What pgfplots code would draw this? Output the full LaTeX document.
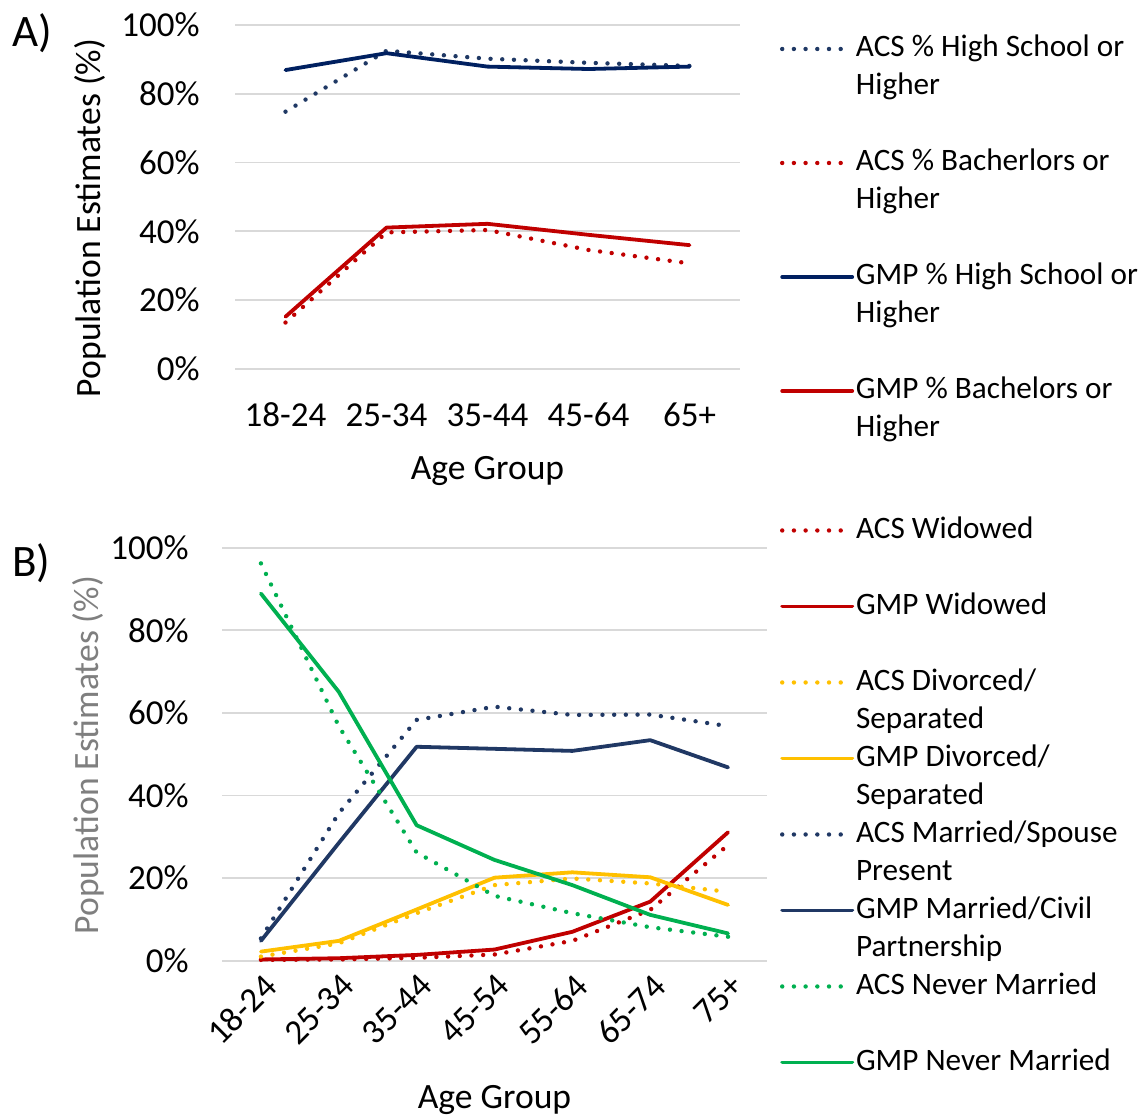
\documentclass[border=0pt]{standalone}
\usepackage{fontspec}
\setmainfont{Carlito}
\usepackage{pgfplots}
\pgfplotsset{compat=1.18}
\definecolor{navyA}{HTML}{002060}
\definecolor{navyA2}{HTML}{1F3864}
\definecolor{navyB}{HTML}{203864}
\definecolor{redC}{HTML}{C00000}
\definecolor{goldC}{HTML}{FFC000}
\definecolor{greenC}{HTML}{00B050}
\definecolor{gridc}{HTML}{D9D9D9}
\definecolor{labgray}{HTML}{7F7F7F}
\tikzset{
 acs/.style={line width=2.2pt, dash pattern=on 0pt off 5.85pt, line cap=round},
 gmp/.style={line width=1.9pt, line cap=round, line join=round},
}
\pgfplotsset{
 excel/.style={
  scale only axis,
  clip=false,
  ymin=0, ymax=100, ytick={0,20,40,60,80,100},
  yticklabel={\pgfmathprintnumber{\tick}\%},
  /pgf/number format/assume math mode=true,
  axis line style={draw=none},
  major tick length=0pt,
  ymajorgrids, grid style={gridc, line width=0.9pt},
  tick label style={font=\fontsize{17.5}{21}\selectfont, text=black},
  label style={font=\fontsize{17.8}{21}\selectfont},
  legend style={draw=none, fill=none, inner sep=0pt, outer sep=0pt, anchor=north west,
     font=\fontsize{15.6}{19}\selectfont,
     nodes={inner sep=0pt, text height=13.3pt, text depth=5.7pt},
     column sep=0.8pt, row sep=0pt},
  legend cell align=left,
  legend image code/.code={\draw[##1] (0pt,0pt) -- (35pt,0pt);},
 },
}
\begin{document}
\begin{tikzpicture}
\path[use as bounding box] (0,0) rectangle (571.5pt,558.5pt);
% ---------------- Panel A ----------------
\begin{axis}[excel,
  at={(117.5pt,374pt)}, anchor=south west,
  width=252.5pt, height=172pt,
  xmin=-0.5, xmax=4.5, xtick={0,1,2,3,4},
  xticklabels={18-24,25-34,35-44,45-64,65+},
  xticklabel style={anchor=center, yshift=-23pt},
  yticklabel style={inner sep=0pt, anchor=east, xshift=-17.5pt},
  xlabel={Age Group},
  xlabel style={at={(axis description cs:0.5,0)}, anchor=base, yshift=-55.5pt},
  ylabel={Population Estimates (\%)},
  ylabel style={at={(axis description cs:-0.287,0.439)}, anchor=center},
  legend style={at={(1.0792,0.9855)}},
]
\addplot[acs, navyA2, forget plot] coordinates {(0,74.8) (1,92.5) (2,90.2) (3,89.0) (4,88.1)};
\addplot[acs, redC, forget plot] coordinates {(0,13.5) (1,39.7) (2,40.4) (3,34.6) (4,30.7)};
\addplot[gmp, navyA, forget plot] coordinates {(0,86.9) (1,91.8) (2,87.9) (3,87.2) (4,87.9)};
\addplot[gmp, redC, forget plot] coordinates {(0,15.2) (1,41.1) (2,42.2) (3,39.0) (4,36.0)};
\addlegendimage{acs, navyA2}\addlegendentry{ACS \% High School or}
\addlegendimage{empty legend}\addlegendentry{Higher}
\addlegendimage{empty legend}\addlegendentry{}
\addlegendimage{acs, redC}\addlegendentry{ACS \% Bacherlors or}
\addlegendimage{empty legend}\addlegendentry{Higher}
\addlegendimage{empty legend}\addlegendentry{}
\addlegendimage{gmp, navyA}\addlegendentry{GMP \% High School or}
\addlegendimage{empty legend}\addlegendentry{Higher}
\addlegendimage{empty legend}\addlegendentry{}
\addlegendimage{gmp, redC}\addlegendentry{GMP \% Bachelors or}
\addlegendimage{empty legend}\addlegendentry{Higher}
\end{axis}
% ---------------- Panel B ----------------
\begin{axis}[excel,
  at={(111pt,78.15pt)}, anchor=south west,
  width=272.5pt, height=206.5pt,
  xmin=-0.5, xmax=6.5, xtick={0,1,2,3,4,5,6},
  xticklabels={18-24,25-34,35-44,45-54,55-64,65-74,75+},
  xticklabel style={inner sep=0pt, xshift=0.5pt, yshift=-5.5pt, rotate=45, anchor=north east},
  yticklabel style={inner sep=0pt, anchor=east, xshift=-16.5pt},
  xlabel={Age Group},
  xlabel style={at={(axis description cs:0.5,0)}, anchor=base, yshift=-73.7pt},
  ylabel={Population Estimates (\%)},
  ylabel style={at={(axis description cs:-0.246,0.498)}, anchor=center, text=labgray},
  legend style={at={(1.0239,1.0877)}},
]
\addplot[acs, redC, forget plot] coordinates {(0,0.2) (1,0.3) (2,0.7) (3,1.5) (4,4.8) (5,12.3) (6,28.0)};
\addplot[gmp, redC, forget plot] coordinates {(0,0.3) (1,0.6) (2,1.4) (3,2.7) (4,7.0) (5,14.3) (6,31.1)};
\addplot[acs, goldC, forget plot] coordinates {(0,1.0) (1,4.2) (2,11.5) (3,18.3) (4,19.9) (5,18.7) (6,16.7)};
\addplot[gmp, goldC, forget plot] coordinates {(0,2.2) (1,4.8) (2,12.4) (3,20.1) (4,21.4) (5,20.2) (6,13.5)};
\addplot[acs, navyB, forget plot] coordinates {(0,5.4) (1,35.7) (2,58.3) (3,61.5) (4,59.5) (5,59.6) (6,56.8)};
\addplot[gmp, navyB, forget plot] coordinates {(0,4.8) (1,28.5) (2,51.8) (3,51.3) (4,50.8) (5,53.4) (6,46.8)};
\addplot[acs, greenC, forget plot] coordinates {(0,96.2) (1,56.8) (2,26.2) (3,15.7) (4,11.5) (5,8.1) (6,5.8)};
\addplot[gmp, greenC, forget plot] coordinates {(0,88.9) (1,65.1) (2,32.8) (3,24.4) (4,18.3) (5,11.1) (6,6.6)};
\addlegendimage{acs, redC}\addlegendentry{ACS Widowed}
\addlegendimage{empty legend}\addlegendentry{}
\addlegendimage{gmp, redC}\addlegendentry{GMP Widowed}
\addlegendimage{empty legend}\addlegendentry{}
\addlegendimage{acs, goldC}\addlegendentry{ACS Divorced/}
\addlegendimage{empty legend}\addlegendentry{Separated}
\addlegendimage{gmp, goldC}\addlegendentry{GMP Divorced/}
\addlegendimage{empty legend}\addlegendentry{Separated}
\addlegendimage{acs, navyB}\addlegendentry{ACS Married/Spouse}
\addlegendimage{empty legend}\addlegendentry{Present}
\addlegendimage{gmp, navyB}\addlegendentry{GMP Married/Civil}
\addlegendimage{empty legend}\addlegendentry{Partnership}
\addlegendimage{acs, greenC}\addlegendentry{ACS Never Married}
\addlegendimage{empty legend}\addlegendentry{}
\addlegendimage{gmp, greenC}\addlegendentry{GMP Never Married}
\end{axis}
\node[anchor=base west, inner sep=0pt, font=\fontsize{22.5}{27}\selectfont] at (6pt,535pt) {A)};
\node[anchor=base west, inner sep=0pt, font=\fontsize{22.5}{27}\selectfont] at (6pt,270pt) {B)};
\end{tikzpicture}
\end{document}
